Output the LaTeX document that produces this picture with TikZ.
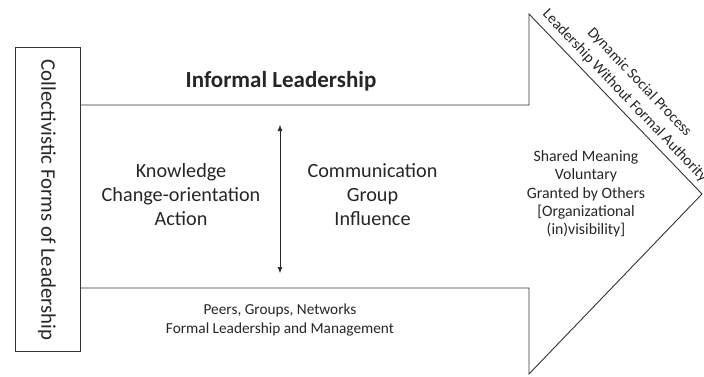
\documentclass[tikz,border=0pt]{standalone}
\usepackage{fontspec}
\setmainfont{Carlito}
\usetikzlibrary{arrows.meta}
\begin{document}
\begin{tikzpicture}[x=1pt,y=-1pt,
  outline/.style={draw=black!80, line width=0.9pt, line join=miter},
  lbl/.style={text=black!85, align=center, inner sep=0pt},
  big/.style={font=\fontsize{20.2}{24}\selectfont},
  small/.style={font=\fontsize{15.3}{18.3}\selectfont},
  tip/.style={{Latex[length=6pt,width=5pt]}-{Latex[length=6pt,width=5pt]}}]
\useasboundingbox (0,0) rectangle (704,376);
% big arrow shape
\coordinate (s1) at (80,105);
\coordinate (s2) at (529,105);
\coordinate (h1) at (529,14);
\coordinate (ht) at (702,194);
\coordinate (h2) at (529,374);
\coordinate (s3) at (529,288);
\coordinate (s4) at (80,288);
\draw[outline] (s1) -- (s2) -- (h1) -- (ht) -- (h2) -- (s3) -- (s4);
% left box
\node[outline, fill=white, minimum width=65pt, minimum height=304pt, inner sep=0pt, anchor=north west] (box) at (15,47) {};
\node[lbl, rotate=-90, font=\fontsize{20.8}{24}\selectfont] (coll) at (47,200) {Collectivistic Forms of Leadership};
% title
\node[lbl, anchor=base, font=\fontsize{23}{27}\selectfont\bfseries] (title) at (281,87) {Informal Leadership};
% middle texts
\node[lbl, big] (know) at (181,195) {Knowledge\\Change-orientation\\Action};
\node[lbl, big] (comm) at (372.5,195) {Communication\\Group\\Influence};
\coordinate (au) at (280,125);
\coordinate (ad) at (280,273);
\draw[tip, draw=black!85, line width=0.6pt] (au) -- (ad);
% bottom
\node[lbl, small] (peers) at (280,320) {Peers, Groups, Networks\\Formal Leadership and Management};
% head text
\node[lbl, font=\fontsize{15.8}{18.3}\selectfont] (shared) at (586,194) {Shared Meaning\\Voluntary\\Granted by Others\\{[}Organizational\\(in)visibility]};
% diagonal texts
\node[lbl, rotate=-46.4, font=\fontsize{15.3}{18}\selectfont] (lwfa) at (625,96) {Leadership Without Formal Authority};
\node[lbl, rotate=-46.4, font=\fontsize{15.3}{18}\selectfont] (dsp) at (639.4,82.4) {Dynamic Social Process};
\end{tikzpicture}
\end{document}
